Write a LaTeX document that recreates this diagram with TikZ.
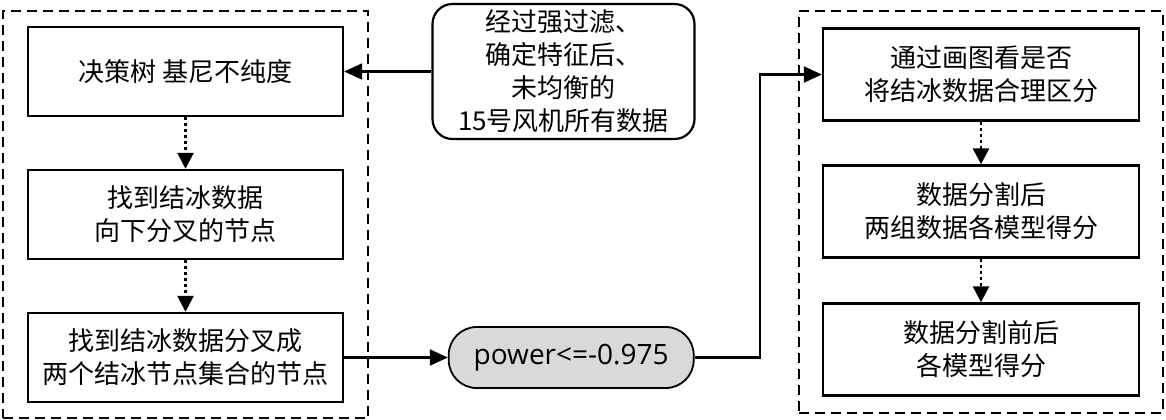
\documentclass[tikz,border=0pt]{standalone}
\usepackage{fontspec}
\usepackage{tikz}
\usetikzlibrary{arrows.meta,positioning,calc,fit}
\usepackage{xcolor}
\newfontfamily\cjk{Noto Sans CJK SC}
\newfontfamily\latinsf{Open Sans}
\definecolor{splitgrey}{HTML}{D9D9D9}

\begin{document}
\begin{tikzpicture}[
  x=1pt, y=1pt,
  every node/.style={font=\cjk\fontsize{13pt}{16.5pt}\selectfont},
  box/.style={draw, line width=1.2pt, minimum width=157.5pt,
    minimum height=44.5pt, align=center, inner sep=0pt},
  rbox/.style={box, minimum width=158pt, minimum height=46pt},
  group/.style={draw, dash pattern=on 5pt off 3pt, line width=0.9pt},
  flow/.style={-{Triangle[length=8pt,width=8pt]}, line width=1.3pt,
    dash pattern=on 1.5pt off 1.5pt},
  feed/.style={-{Triangle[length=9pt,width=8pt]}, line width=1.1pt}]
\useasboundingbox (0,0) rectangle (583,-209.5);
% left column: decision tree
\node[box] (tree) at (92.75,-35.75) {决策树 基尼不纯度};
\node[box, below=25.8pt of tree] (down) {找到结冰数据\\向下分叉的节点};
\node[box, below=25.8pt of down] (fork) {找到结冰数据分叉成\\两个结冰节点集合的节点};
\node[group, fit=(tree)(fork), inner xsep=12pt, inner ysep=7.5pt] (lgrp) {};
% input data and split value
\node[draw, line width=1.1pt, rounded corners=10pt, minimum width=131pt,
  minimum height=67.5pt, align=center, inner sep=0pt,
  right=43.6pt of tree] (data)
  {经过强过滤、\\确定特征后、\\未均衡的\\15号风机所有数据};
\node[draw, line width=0.9pt, fill=splitgrey, rounded corners=14pt,
  minimum width=122.5pt, minimum height=30.5pt, inner sep=0pt,
  font=\latinsf\fontsize{14pt}{16pt}\selectfont,
  right=51.8pt of fork] (split) {power<=-0.975};
% right column: checking the split
\node[rbox] (plot) at (490.5,-37.25) {通过画图看是否\\将结冰数据合理区分};
\node[rbox, below=21.3pt of plot] (after) {数据分割后\\两组数据各模型得分};
\node[rbox, below=21.8pt of after] (before) {数据分割前后\\各模型得分};
\node[group, fit=(plot)(before), inner xsep=11.5pt, inner ysep=8pt] (rgrp) {};
\draw[flow] (tree) -- (down);
\draw[flow] (down) -- (fork);
\draw[flow] (plot) -- (after);
\draw[flow] (after) -- (before);
\draw[feed] (data) -- (tree);
\draw[feed] (fork) -- (split);
\draw[feed] (split.east) -- ++(32.5pt,0) |- (plot.west);
\end{tikzpicture}
\end{document}
